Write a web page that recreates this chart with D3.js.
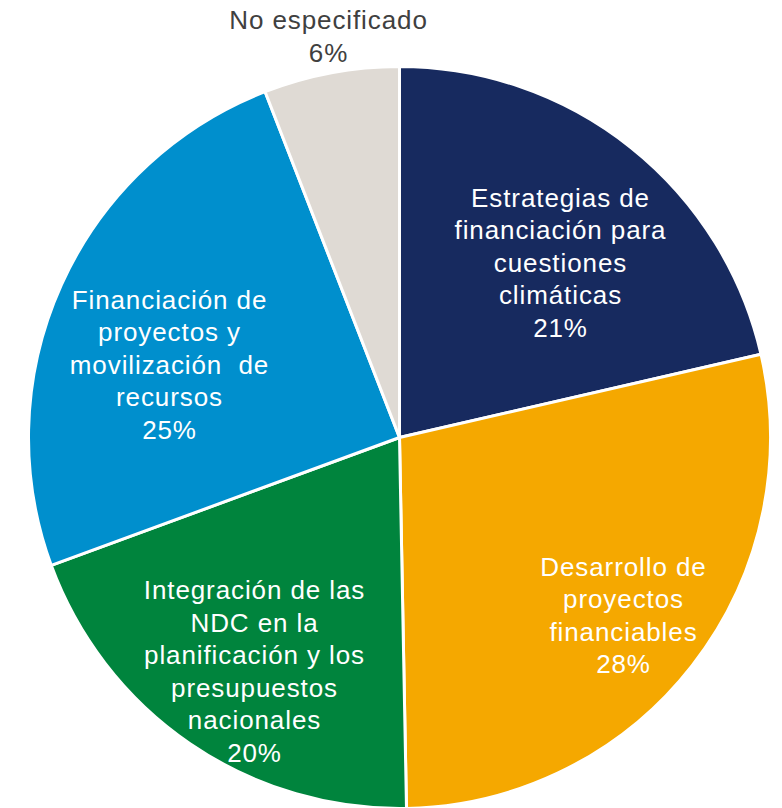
<!DOCTYPE html>
<meta charset="utf-8">
<script src="https://cdn.jsdelivr.net/npm/d3@7"></script>
<style>
body { margin: 0; background: #fff; }
text { font-family: "Liberation Sans", Arial, sans-serif; font-size: 26px; letter-spacing: 0.9px; }
</style>
<body>
<script>

// slices, clockwise from 12 o'clock
var categories = [
  "Estrategias de financiación para cuestiones climáticas",
  "Desarrollo de proyectos financiables",
  "Integración de las NDC en la planificación y los presupuestos nacionales",
  "Financiación de proyectos y movilización de recursos",
  "No especificado"
];
var values = [21.4, 28.3, 19.7, 24.7, 5.9];
var shownPct = ["21%", "28%", "20%", "25%", "6%"];

// how each label breaks onto lines
var labelLines = [
  ["Estrategias de", "financiación para", "cuestiones", "climáticas"],
  ["Desarrollo de", "proyectos", "financiables"],
  ["Integración de las", "NDC en la", "planificación y los", "presupuestos", "nacionales"],
  ["Financiación de", "proyectos y", "movilización  de", "recursos"],
  ["No especificado"]
];

var colors = ["#172a5f", "#f5a800", "#00843d", "#008fcd", "#dfdad4"];
var textColors = ["#fff", "#fff", "#fff", "#fff", "#404040"];
// label block centre, relative to pie centre
var labelPos = [[161, -175], [224, 178], [-145, 234], [-230, -73], [-71, -401]];

var width = 782,
    height = 808,
    cx = 399.5,
    cy = 437.5,
    radius = 371,
    lineH = 32.5;

var svg = d3.select("body").append("svg")
    .attr("width", width)
    .attr("height", height);

var pie = d3.pie().sort(null).value(function(d) { return d; });
var arc = d3.arc().innerRadius(0).outerRadius(radius);

var g = svg.append("g")
    .attr("transform", "translate(" + cx + "," + cy + ")");

g.selectAll("path")
  .data(pie(values))
  .enter().append("path")
    .attr("d", arc)
    .attr("fill", function(d, i) { return colors[i]; })
    .attr("stroke", "#fff")
    .attr("stroke-width", 3)
    .attr("stroke-linejoin", "round");

var labels = g.selectAll("text.lbl")
  .data(categories)
  .enter().append("text")
    .attr("class", "lbl")
    .attr("text-anchor", "middle")
    .attr("fill", function(d, i) { return textColors[i]; })
    .attr("transform", function(d, i) {
      return "translate(" + labelPos[i][0] + "," + labelPos[i][1] + ")"; });

labels.each(function(d, i) {
  var lines = labelLines[i].concat([shownPct[i]]);
  var top = -(lines.length - 1) * lineH / 2;
  d3.select(this).selectAll("tspan")
    .data(lines)
    .enter().append("tspan")
      .attr("x", 0)
      .attr("y", function(l, j) { return top + j * lineH; })
      .attr("dy", "0.35em")
      .style("white-space", "pre")
      .text(function(l) { return l; });
});

</script>
</body>
</html>
